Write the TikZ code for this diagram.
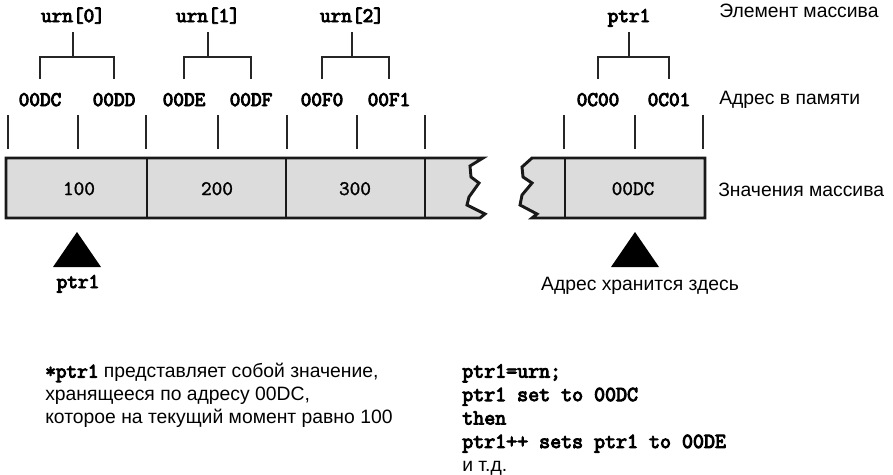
\documentclass[tikz,border=0pt]{standalone}
\usepackage{fontspec}
\setmainfont{Liberation Sans}
\newfontfamily\boldmono[FakeBold=4.5]{Latin Modern Mono}
\newfontfamily\medmono[FakeBold=1.5]{Latin Modern Mono}
\definecolor{cellgray}{HTML}{DCDCDC}

\begin{document}
\begin{tikzpicture}[x=0.75pt,y=-0.75pt]
    % Levels of the brackets (in px, measured from the top)
    \def\stemtop{32}
    \def\barlevel{57}
    \def\leglevel{79}
    % Style definitions
    \tikzset{
        % bold mono labels (elements and addresses)
        monolbl/.style={inner sep=0pt, anchor=base, font=\fontsize{15.5}{18}\selectfont\boldmono},
        % values stored in the cells
        vallbl/.style={inner sep=0pt, anchor=base, font=\fontsize{15.5}{18}\selectfont\medmono},
        % captions on the right
        sanslbl/.style={inner sep=0pt, anchor=base west, font=\fontsize{14.5}{17}\selectfont},
        % thin lines for brackets and ticks
        thinline/.style={draw=black!85, line width=0.8pt},
        % thick cell borders
        cellline/.style={draw=black!90, line width=2.2pt, line join=miter}
    }
    \useasboundingbox (0,0) rectangle (893,475);

    % First row: array elements
    \node[monolbl] (u0) at (73,22) {urn[0]};
    \node[monolbl] (u1) at (208,22) {urn[1]};
    \node[monolbl] (u2) at (352,22) {urn[2]};
    \node[monolbl] (p0) at (629,22) {ptr1};
    \node[sanslbl] (t1) at (719,17) {Элемент массива};

    % Second row: addresses
    \node[monolbl] (a0) at (40,106) {00DC};
    \node[monolbl] (a1) at (114,106) {00DD};
    \node[monolbl] (a2) at (184,106) {00DE};
    \node[monolbl] (a3) at (251,106) {00DF};
    \node[monolbl] (a4) at (322,106) {00F0};
    \node[monolbl] (a5) at (389,106) {00F1};
    \node[monolbl] (c0) at (598,106) {0C00};
    \node[monolbl] (c1) at (669,106) {0C01};
    \node[sanslbl] (t2) at (719,104) {Адрес в памяти};

    % Brackets from elements to addresses
    \foreach \u/\a/\b in {u0/a0/a1, u1/a2/a3, u2/a4/a5, p0/c0/c1}{
        \draw[thinline] (\u |- 0,\stemtop) -- (\u |- 0,\barlevel);
        \draw[thinline] (\a |- 0,\leglevel) |- (\b |- 0,\barlevel) -- (\b |- 0,\leglevel);
    }

    % Byte ticks
    \foreach \x in {8,78,146,218,287,357,425,564,635,703}
        \draw[thinline] (\x,115) -- (\x,149);

    % Third row: the cells (left part)
    \filldraw[cellline, fill=cellgray] (6,158) -- (483,158) -- (470,166) -- (471,177)
        -- (479,183) -- (469,197) -- (467,205) -- (485,214) -- (480,218) -- (6,218) -- cycle;
    \foreach \x in {147,286,425}
        \draw[cellline] (\x,158) -- (\x,218);
    % the cells (right part)
    \filldraw[cellline, fill=cellgray] (705,158) -- (532,158) -- (522,167) -- (523,177)
        -- (532,183) -- (522,195) -- (520,205) -- (537,214) -- (532,218) -- (705,218) -- cycle;
    \draw[cellline] (565,158) -- (565,218);

    \node[vallbl] (v0) at (79,195) {100};
    \node[vallbl] (v1) at (217,195) {200};
    \node[vallbl] (v2) at (355,195) {300};
    \node[vallbl] (v3) at (633,195) {00DC};
    \node[sanslbl] (t3) at (718,196) {Значения массива};

    % Pointers
    \fill (77,232) -- (101,267) -- (53,267) -- cycle;
    \fill (635,232) -- (659,267) -- (611,267) -- cycle;
    \node[monolbl] (pp) at (78,288) {ptr1};
    \node[sanslbl, anchor=base] (ph) at (640,290) {Адрес хранится здесь};

    % Notes at the bottom
    \node[inner sep=0pt, anchor=north west, align=left, font=\fontsize{14.5}{17.3}\selectfont] (n1) at (45,363)
        {{\boldmono\fontsize{15.5}{17.3}\selectfont *ptr1} представляет собой значение,\\
         хранящееся по адресу 00DC,\\
         которое на текущий момент равно 100};
    \node[inner sep=0pt, anchor=north west, align=left, font=\fontsize{16}{17.6}\selectfont\boldmono] (n2) at (462,364)
        {ptr1=urn;\\
         ptr1 set to 00DC\\
         then\\
         ptr1++ sets ptr1 to 00DE\\
         {\rmfamily\fontsize{14.5}{17.6}\selectfont и т.д.}};
\end{tikzpicture}
\end{document}
